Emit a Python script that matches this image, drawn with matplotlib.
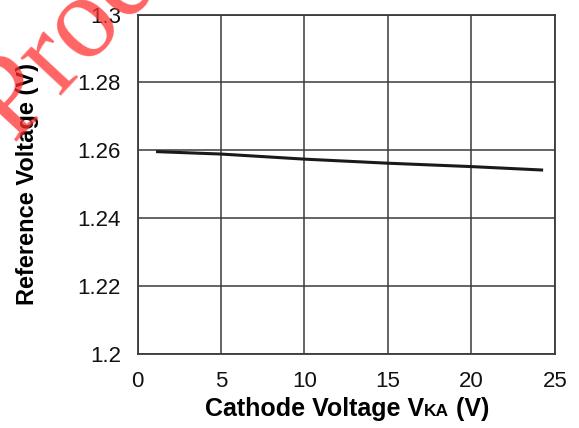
import matplotlib
matplotlib.use("Agg")
import matplotlib.pyplot as plt
from matplotlib.offsetbox import TextArea, HPacker, AnchoredOffsetbox

# curve
vka = [1.2, 5, 10, 15, 20, 24.2]
vref = [1.2596, 1.2589, 1.2574, 1.2562, 1.2552, 1.2542]

xticks = [0, 5, 10, 15, 20, 25]
yticks = [1.2, 1.22, 1.24, 1.26, 1.28, 1.3]
ytick_labels = ["1.2", "1.22", "1.24", "1.26", "1.28", "1.3"]

plt.rcParams['font.family'] = ['Liberation Sans', 'DejaVu Sans']

fig = plt.figure(figsize=(5.79, 4.28), dpi=100)
ax = fig.add_axes([0.2375, 0.173, 0.721, 0.793])

ax.plot(vka, vref, color='#1a1a1a', lw=2.2, zorder=3)

ax.set_xlim(0, 25)
ax.set_ylim(1.2, 1.3)
ax.set_xticks(xticks)
ax.set_xticklabels([str(v) for v in xticks])
ax.set_yticks(yticks)
ax.set_yticklabels(ytick_labels)
ax.tick_params(length=0, labelsize=16, colors='#111111')
ax.tick_params(axis='x', pad=12)
ax.tick_params(axis='y', pad=12)
ax.grid(True, color='#3a3a3a', lw=1.1)
for sp in ax.spines.values():
    sp.set_color('#3a3a3a')
    sp.set_linewidth(1.3)

ax.set_ylabel("Reference Voltage (V)", fontsize=17, fontweight='bold', labelpad=28)

# x label with small "KA" on the same baseline
parts = [TextArea("Cathode Voltage V", textprops=dict(fontsize=18, fontweight='bold')),
         TextArea("KA", textprops=dict(fontsize=12.5, fontweight='bold')),
         TextArea(" (V)", textprops=dict(fontsize=18, fontweight='bold'))]
box = HPacker(children=parts, align="baseline", pad=0, sep=0)
anch = AnchoredOffsetbox(loc='center', child=box, frameon=False,
                         bbox_to_anchor=(0.599, 0.045), bbox_transform=fig.transFigure,
                         borderpad=0, pad=0)
fig.add_artist(anch)

# red watermark
fig.text(-0.194, 0.342, "Pre Production", fontsize=85, family='Liberation Serif',
         color='#ff3030', alpha=0.75, rotation=47, rotation_mode='anchor',
         ha='left', va='baseline', zorder=10)

fig.savefig("out.png", dpi=100)
